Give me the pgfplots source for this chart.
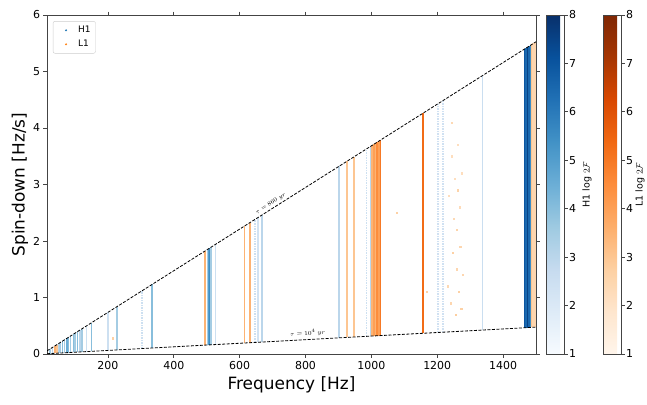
\documentclass[border=0pt]{standalone}
\usepackage{pgfplots}
\usepackage{pgfplotstable}
\pgfplotsset{compat=1.18}
\usepackage{fontspec}
\setmainfont{DejaVu Sans}
\pgfkeys{/pgf/number format/assume math mode=true, /pgf/number format/1000 sep={}}

\definecolor{tabblue}{HTML}{1F77B4}
\definecolor{taborange}{HTML}{FF7F0E}
\definecolor{axgray}{HTML}{444444}

\pgfplotsset{
  colormap={l1}{rgb255=(255,245,235) rgb255=(254,230,206) rgb255=(253,208,162) rgb255=(253,174,107) rgb255=(253,141,60) rgb255=(241,105,19) rgb255=(217,72,1) rgb255=(166,54,3) rgb255=(127,39,4)},
  colormap={h1}{rgb255=(247,251,255) rgb255=(222,235,247) rgb255=(198,219,239) rgb255=(158,202,225) rgb255=(107,174,214) rgb255=(66,146,198) rgb255=(33,113,181) rgb255=(8,81,156) rgb255=(8,48,107)},
  cbar/.style={
    width=18bp,
    ytick={1,...,8}, ytick pos=right, yticklabel pos=right,
    tick align=outside, major tick length=3.5bp,
    tick style={axgray, line width=0.8bp},
    axis line style={axgray, line width=0.8bp},
    yticklabel style={font=\fontsize{11}{13}\selectfont, xshift=-2bp},
  },
}

% strips: f, lower end (tau=1e4 yr), length up to tau=860 yr, log 2F  (y in 1e-8 Hz/s)
\pgfplotstableread{
f y v c
25 0.0079 0.0842 3.5
32 0.0101 0.1077 3.0
50 0.0158 0.1684 3.0
55 0.0174 0.1852 3.5
62 0.0196 0.2088 4.0
68 0.0215 0.2290 3.5
75 0.0238 0.2525 4.5
80 0.0254 0.2694 4.0
86 0.0273 0.2896 3.5
95 0.0301 0.3199 4.0
100 0.0317 0.3367 3.5
108 0.0342 0.3636 4.0
115 0.0364 0.3872 3.0
122 0.0387 0.4108 3.5
135 0.0428 0.4546 2.5
150 0.0475 0.5051 4.0
200 0.0634 0.6734 2.5
227 0.0719 0.7643 3.5
334 0.1058 1.1246 4.0
502 0.1591 1.6903 3.5
506 0.1604 1.7038 5.0
509 0.1613 1.7139 5.5
513 0.1626 1.7273 3.5
527 0.1670 1.7745 2.5
655 0.2076 2.2054 2.3
667 0.2114 2.2459 3.0
902 0.2858 3.0371 3.0
997 0.3160 3.3570 3.0
1338 0.4240 4.5052 2.6
1466 0.4646 4.9362 7.0
1470 0.4658 4.9496 6.5
1474 0.4671 4.9631 7.5
1478 0.4684 4.9766 6.5
1483 0.4700 4.9934 5.5
1495 0.4738 5.0338 3.5
}\hsolid

\pgfplotstableread{
f y v c
303 0.0960 1.0202 2.5
646 0.2047 2.1751 2.5
985 0.3121 3.3166 2.5
1202 0.3809 4.0473 2.4
1217 0.3857 4.0978 2.4
}\hdotted

\pgfplotstableread{
f y v c
40 0.0127 0.1347 3.5
45 0.0143 0.1515 3.0
496 0.1572 1.6701 3.5
615 0.1949 2.0708 3.5
631 0.2000 2.1246 3.5
926 0.2935 3.1179 3.0
948 0.3004 3.1920 3.0
1003 0.3179 3.3772 3.5
1008 0.3194 3.3940 4.0
1013 0.3210 3.4109 3.5
1018 0.3226 3.4277 4.5
1022 0.3239 3.4412 4.0
1028 0.3258 3.4614 5.0
1158 0.3670 3.8991 5.3
1487 0.4712 5.0069 3.0
1492 0.4728 5.0237 2.5
1497 0.4744 5.0405 2.5
}\lsolid

\pgfplotstableread{
x y c
1232 1.2 2.4
1235 2.8 2.2
1240 0.9 2.5
1243 3.5 2.2
1245 4.1 2.4
1248 1.8 2.7
1250 2.4 2.4
1252 3.1 2.2
1255 0.7 2.8
1258 1.5 2.5
1260 2.2 2.6
1262 3.7 2.2
1263 2.9 2.6
1265 1.1 2.7
1268 2.6 2.3
1270 1.9 2.5
1273 0.8 2.7
1275 3.2 2.2
1278 1.4 2.5
1076 2.5 2.7
1168 1.1 2.7
215 0.28 2.7
}\ldots

\begin{document}
\begin{tikzpicture}
\begin{axis}[
  at={(47bp,51bp)}, anchor=south west,
  scale only axis, width=489bp, height=339bp,
  xmin=15, xmax=1500, ymin=0, ymax=6,
  xtick={200,400,...,1400}, ytick={0,...,6},
  tick align=outside, major tick length=3.5bp,
  tick style={axgray, line width=0.8bp},
  axis line style={axgray, line width=0.8bp},
  ticklabel style={font=\fontsize{11}{13}\selectfont},
  xlabel={Frequency [Hz]}, ylabel={Spin-down [Hz/s]},
  label style={font=\fontsize{17}{20}\selectfont},
  ylabel style={yshift=-2bp},
  colormap name=h1, point meta min=1, point meta max=8,
  colorbar,
  colorbar style={
    at={(parent axis.north east)}, anchor=north west, xshift=1.5bp,
    cbar,
    ylabel={H1 log $2\mathcal{F}$},
    ylabel style={font=\fontsize{9.5}{11}\selectfont,
      at={(rel axis cs:1,0.5)}, anchor=center, yshift=-23bp},
  },
  legend style={at={(0.012,0.982)}, anchor=north west,
    font=\fontsize{9}{11}\selectfont, draw=black!20, rounded corners=2bp,
    row sep=2bp, inner xsep=3bp, inner ysep=3bp},
  legend cell align=left,
]
\addlegendimage{legend image code/.code={\path[draw=none, fill=none] (0bp,-2bp) rectangle (20bp,2bp); \fill[tabblue, draw=none] (10bp,0bp) circle (1.1bp);}}
\addlegendentry{H1}
\addlegendimage{legend image code/.code={\path[draw=none, fill=none] (0bp,-2bp) rectangle (20bp,2bp); \fill[taborange, draw=none] (10bp,0bp) circle (1.1bp);}}
\addlegendentry{L1}

\addplot[forget plot, quiver={u=0, v=\thisrow{v}, colored}, line width=1.6bp,
  colormap name=h1, point meta=\thisrow{c}] table[x=f, y=y] {\hsolid};
\addplot[forget plot, quiver={u=0, v=\thisrow{v}, colored}, line width=1.5bp,
  dash pattern=on 1.5bp off 1bp,
  colormap name=h1, point meta=\thisrow{c}] table[x=f, y=y] {\hdotted};
\addplot[forget plot, quiver={u=0, v=\thisrow{v}, colored}, line width=1.8bp,
  colormap name=l1, point meta=\thisrow{c}] table[x=f, y=y] {\lsolid};
\addplot[forget plot, scatter, only marks, mark=square*, mark size=0.6bp,
  scatter/use mapped color={draw=mapped color, fill=mapped color},
  colormap name=l1, point meta=\thisrow{c}] table[x=x, y=y] {\ldots};

\addplot[forget plot, black, line width=0.8bp, dash pattern=on 3bp off 1.5bp]
  coordinates {(15,0.0553) (1500,5.526)};
\addplot[forget plot, black, line width=0.8bp, dash pattern=on 3bp off 1.5bp]
  coordinates {(15,0.00475) (1500,0.4754)};

\node[rotate=32.4, font=\fontsize{6.5}{7}\selectfont, inner sep=1bp]
  at (axis cs:695,2.66) {$\tau = 860\ yr$};
\node[rotate=3.1, font=\fontsize{6.5}{7}\selectfont, inner sep=1bp]
  at (axis cs:807,0.37) {$\tau = 10^4\ yr$};
\node[anchor=south west, inner sep=0pt, font=\fontsize{12}{14}\selectfont]
  at (rel axis cs:0,1) [yshift=2bp] {×10\raisebox{0.7ex}{\fontsize{9}{10}\selectfont −8}};
\end{axis}

\begin{axis}[
  at={(47bp,51bp)}, anchor=south west,
  scale only axis, width=489bp, height=339bp,
  hide axis, xmin=0, xmax=1, ymin=0, ymax=1,
  colormap name=l1, point meta min=1, point meta max=8,
  colorbar,
  colorbar style={
    at={(parent axis.north east)}, anchor=north west, xshift=58.5bp,
    cbar,
    ylabel={L1 log $2\mathcal{F}$},
    ylabel style={font=\fontsize{9.5}{11}\selectfont,
      at={(rel axis cs:1,0.5)}, anchor=center, yshift=-19bp},
  },
]
\addplot[forget plot, draw=none, point meta=1] coordinates {(0.5,0.5)};
\end{axis}

\pgfresetboundingbox
\path[use as bounding box] (0,0) rectangle (647bp,405bp);
\end{tikzpicture}
\end{document}
